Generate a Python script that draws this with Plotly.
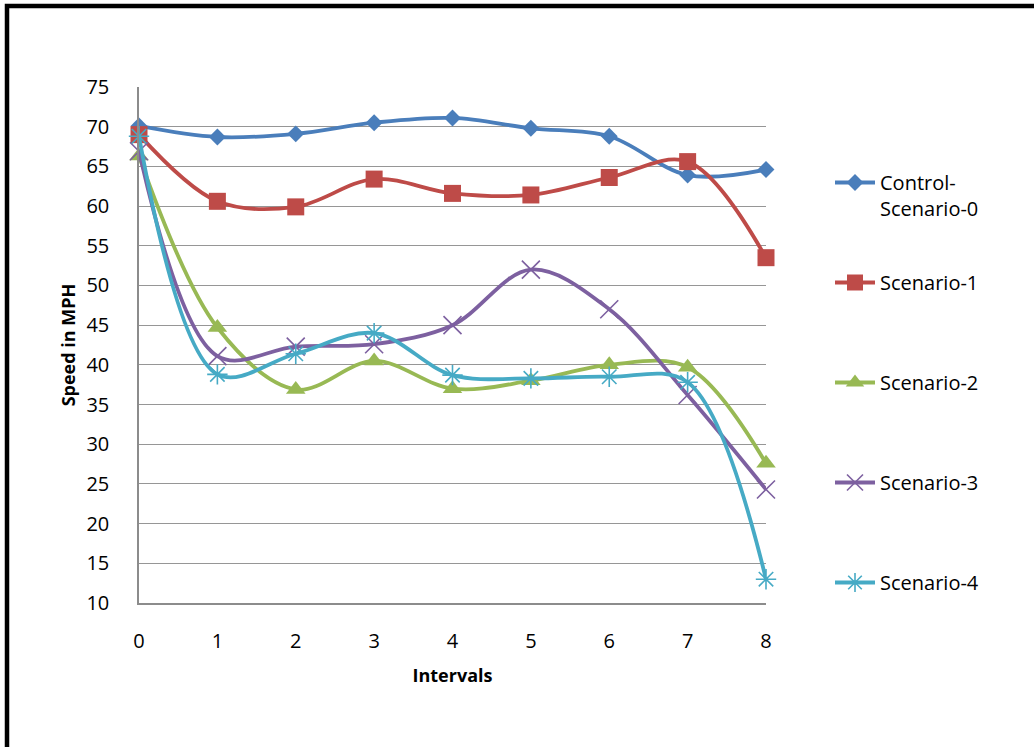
import plotly.graph_objects as go

intervals = [0, 1, 2, 3, 4, 5, 6, 7, 8]

control_0 = [70.1, 68.7, 69.1, 70.5, 71.1, 69.8, 68.8, 63.9, 64.6]
scenario_1 = [69.0, 60.6, 59.9, 63.4, 61.6, 61.4, 63.6, 65.6, 53.5]
scenario_2 = [66.3, 44.7, 36.9, 40.5, 37.0, 38.0, 40.0, 39.7, 27.6]
scenario_3 = [66.9, 41.1, 42.3, 42.6, 45.0, 52.0, 47.0, 36.2, 24.3]
scenario_4 = [68.8, 38.8, 41.4, 44.0, 38.7, 38.3, 38.5, 37.8, 13.0]

series_names = ["Control-<br>Scenario-0", "Scenario-1<br> ", "Scenario-2<br> ",
                "Scenario-3<br> ", "Scenario-4<br> "]
series_values = [control_0, scenario_1, scenario_2, scenario_3, scenario_4]
series_colors = ["#4A7EBB", "#BE4B48", "#98B954", "#7D60A0", "#46AAC5"]
series_symbols = ["diamond", "square", "triangle-up", "x-thin", "asterisk"]
series_sizes = [13, 17, 17, 18, 17]

FONT = "Open Sans"

fig = go.Figure()
for i, (name, vals, col, sym, sz) in enumerate(
        zip(series_names, series_values, series_colors, series_symbols, series_sizes)):
    line_only = sym in ("x-thin", "asterisk")
    fig.add_trace(go.Scatter(
        x=intervals, y=vals, name=name, mode="lines+markers",
        legendgroup=f"g{i}", cliponaxis=False,
        line=dict(color=col, width=3.8, shape="spline", smoothing=1.0),
        marker=dict(symbol=sym, size=sz, color=col,
                    line=dict(color=col, width=1.6 if line_only else 0)),
    ))

W, H = 1034, 747
L, R, T, B = 139, 268, 87, 144
pw, ph = W - L - R, H - T - B

def px_x(p):
    return (p - L) / pw

def px_y(p):
    return (H - B - p) / ph

fig.update_layout(
    width=W, height=H,
    margin=dict(l=L, r=R, t=T, b=B),
    paper_bgcolor="white", plot_bgcolor="white",
    font=dict(family=FONT, size=20, color="#000000"),
    xaxis=dict(
        range=[0, 8], tickmode="array", tickvals=intervals,
        ticktext=[str(v) for v in intervals],
        tickfont=dict(size=20),
        showgrid=False, zeroline=False,
        showline=True, linecolor="#8C8C8C", linewidth=1.5,
        ticks="", ticklabelstandoff=19,
        title=dict(text="<b>Intervals</b>", font=dict(size=18), standoff=17),
    ),
    yaxis=dict(
        range=[10, 75], tickmode="array", tickvals=list(range(10, 80, 5)),
        tickfont=dict(size=20),
        showgrid=True, gridcolor="#969696", gridwidth=1.3,
        zeroline=False, showline=True, linecolor="#8C8C8C", linewidth=1.5,
        ticks="", ticklabelstandoff=24,
        title=dict(text="<b>Speed in MPH</b>", font=dict(size=18), standoff=6),
    ),
    legend=dict(
        x=px_x(830), y=px_y(163), xanchor="left", yanchor="top",
        valign="top", tracegroupgap=45, itemwidth=40,
        font=dict(family=FONT, size=20),
        bgcolor="rgba(0,0,0,0)",
    ),
    shapes=[dict(
        type="rect", xref="paper", yref="paper",
        x0=px_x(7), x1=px_x(1200), y0=px_y(900), y1=px_y(6),
        line=dict(color="black", width=4.5), fillcolor="rgba(0,0,0,0)",
        layer="above",
    )],
)

fig.write_html("out.html")
